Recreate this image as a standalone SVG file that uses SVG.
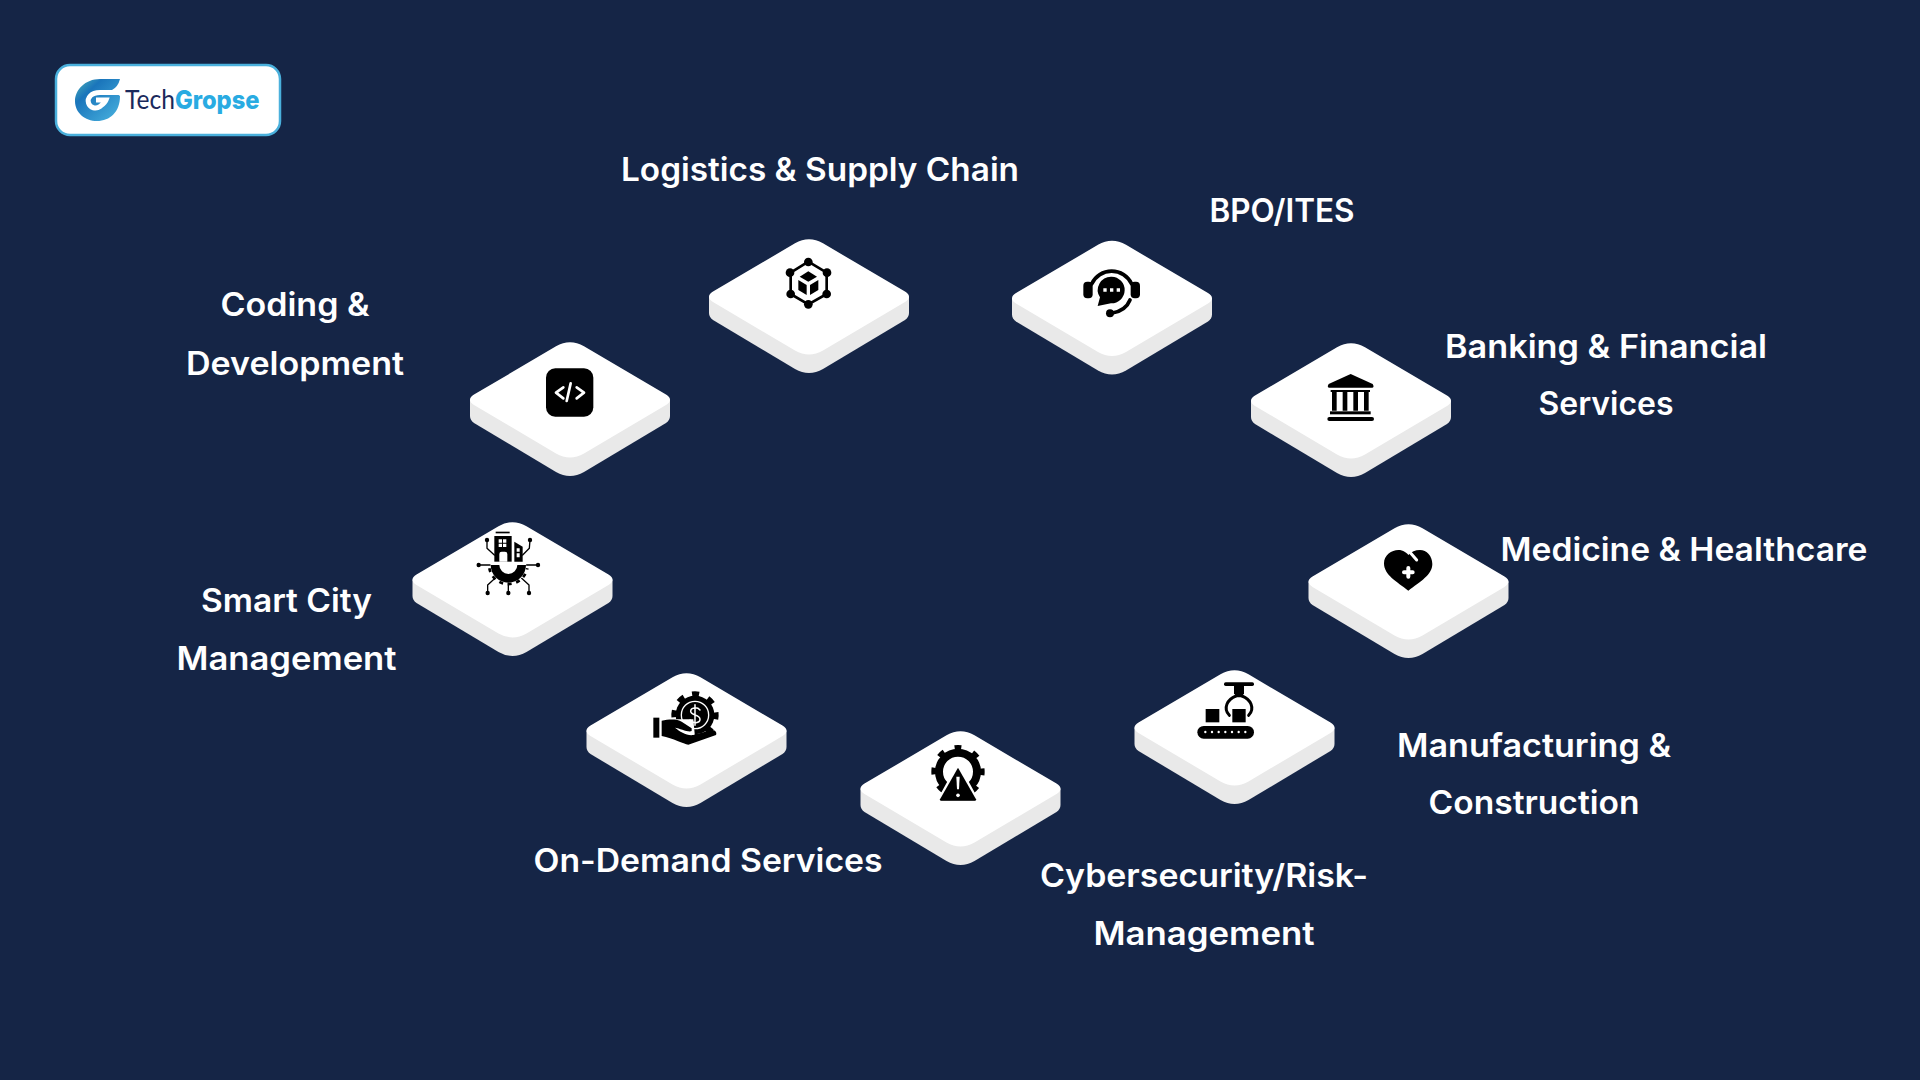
<svg xmlns="http://www.w3.org/2000/svg" width="1920" height="1080" viewBox="0 0 1920 1080">
<style>
.lbl{font-family:"Inter","Liberation Sans",sans-serif;font-weight:600;font-size:32px;fill:#fff;text-anchor:middle}
.w{fill:#fff}.wl{fill:none;stroke:#fff;stroke-linecap:round;stroke-linejoin:round}
.k{fill:#000}.kl{fill:none;stroke:#000;stroke-linecap:round;stroke-linejoin:round}
</style>
<defs>
<linearGradient id="gm" x1="0" y1="0" x2="1" y2="1"><stop offset="0" stop-color="#4fb4b8"/><stop offset=".3" stop-color="#1a75bb"/><stop offset="1" stop-color="#4ab4e0"/></linearGradient>
<g id="plate">
<path fill="#e9e9e9" d="M-100 57.500V74Q-100 78 -96 81L-14 130Q0 138 14 130L96 81Q100 78 100 74V57.500Z"/>
<path fill="#fff" d="M-14 4.300Q0 -4 14 4.300L96 52.600Q104 57.500 96 63L14 111.500Q0 119.500 -14 111.500L-96 63Q-104 57.500 -96 52.600Z"/>
</g>
</defs>
<rect width="1920" height="1080" fill="#152546"/>

<g id="logo">
<rect x="56" y="65" width="224" height="70" rx="14" fill="#fff" stroke="#4ab0dc" stroke-width="2.500"/>
<path fill="url(#gm)" d="M120 79H100C85 79 75 90 75 101C75 113 85 121 97 121C110 121 120 112 120 96L112 90Q118 87 120 79Z"/>
<path fill="none" stroke="#fff" stroke-width="5" d="M122 92.500H100C91 92.500 87 98 88.500 103C90 108 96 109.500 100 106.500C103 104 105 102.500 106 100H96"/>
<text transform="translate(125 109) scale(.91 1)" font-size="27" fill="#1b2a5c" font-family="Lato,'Liberation Sans',sans-serif" font-weight="400">Tech<tspan font-family="Inter,'Liberation Sans',sans-serif" font-weight="800" font-size="26" fill="#29abe2">Gropse</tspan></text>
</g>

<g id="node-coding">
<use href="#plate" x="570" y="342"/>
<g transform="translate(450 330) scale(.33333)">
<rect x="288" y="115" width="142" height="145" rx="28" class="k"/>
<path class="wl" stroke-width="8" d="M340 172L318 188L340 205M362 160L350 213M380 172L402 188L380 205"/>
</g>
<text class="lbl" x="295" y="316" textLength="149" lengthAdjust="spacingAndGlyphs">Coding &amp;</text>
<text class="lbl" x="295" y="374.500" textLength="218" lengthAdjust="spacingAndGlyphs">Development</text>
</g>

<g id="node-logistics">
<use href="#plate" x="809" y="239"/>
<g transform="translate(770 250) scale(.33333)">
<path class="kl" stroke-width="8" d="M115 35L170 68V132L115 163L62 132V68Z"/>
<circle cx="115" cy="36" r="13" class="k"/><circle cx="115" cy="163" r="13" class="k"/>
<circle cx="60" cy="68" r="13" class="k"/><circle cx="171" cy="68" r="13" class="k"/>
<circle cx="62" cy="132" r="13" class="k"/><circle cx="170" cy="132" r="13" class="k"/>
<path class="k" d="M115 64L141 80L115 95L89 80Z"/>
<path class="k" d="M85 90L110 105V135L85 120ZM145 90L120 105V135L145 120Z"/>
</g>
<text class="lbl" x="820" y="181" textLength="398" lengthAdjust="spacingAndGlyphs">Logistics &amp; Supply Chain</text>
</g>

<g id="node-bpo">
<use href="#plate" x="1112" y="240.500"/>
<g transform="translate(1075 260) scale(.33333)">
<rect x="25" y="65" width="28" height="50" rx="12" class="k"/>
<rect x="167" y="65" width="28" height="50" rx="12" class="k"/>
<path class="kl" stroke-width="11" d="M50 72A66 66 0 0 1 170 72M165 120C155 145 135 155 112 159"/>
<circle cx="105" cy="160" r="12" class="k"/>
<path class="k" d="M110 50A40 40 0 1 1 108 130L68 138L75 112A40 40 0 0 1 110 50Z"/>
<path class="w" d="M85 85h10v10h-10zM105 85h10v10h-10zM125 85h10v10h-10z"/>
</g>
<text class="lbl" x="1282" y="222" textLength="145" lengthAdjust="spacingAndGlyphs">BPO/ITES</text>
</g>

<g id="node-banking">
<use href="#plate" x="1351" y="343"/>
<g transform="translate(1240 340) scale(.33333)">
<path class="k" d="M332 102L398 132Q404 143 396 143H268Q260 143 266 132Z"/>
<rect x="272" y="150" width="118" height="6" class="k"/>
<path class="k" d="M276 156h14v56h-14zM308 156h14v56h-14zM340 156h14v56h-14zM372 156h14v56h-14z"/>
<rect x="270" y="214" width="122" height="9" class="k"/>
<rect x="262" y="231" width="140" height="12" rx="6" class="k"/>
</g>
<text class="lbl" x="1606" y="357.500" textLength="322" lengthAdjust="spacingAndGlyphs">Banking &amp; Financial</text>
<text class="lbl" x="1606" y="415" textLength="135" lengthAdjust="spacingAndGlyphs">Services</text>
</g>

<g id="node-medicine">
<use href="#plate" x="1408.500" y="524"/>
<g transform="translate(1300 510) scale(.33333)">
<path class="k" d="M325 242C290 215 252 195 252 160C252 135 275 120 295 120C310 120 320 128 325 135C335 125 345 120 360 120C380 120 397 138 397 162C397 195 360 215 325 242Z"/>
<path class="wl" stroke-width="9" d="M322 118L350 150"/>
<path class="wl" stroke-width="12" d="M325 174V200M312 187H338"/>
</g>
<text class="lbl" x="1684" y="561" textLength="367" lengthAdjust="spacingAndGlyphs">Medicine &amp; Healthcare</text>
</g>

<g id="node-manufacturing">
<use href="#plate" x="1234.500" y="670"/>
<g transform="translate(1120 660) scale(.33333)">
<rect x="312" y="67" width="90" height="11" rx="5" class="k"/>
<path class="k" d="M342 78H372V100L365 112H350L342 100Z"/>
<path class="kl" stroke-width="9" d="M328 166C308 145 322 118 348 108M386 166C406 145 392 118 366 108"/>
<rect x="257" y="147" width="41" height="40" class="k"/>
<rect x="337" y="147" width="40" height="40" class="k"/>
<rect x="232" y="198" width="170" height="38" rx="19" class="k"/>
<g class="w"><circle cx="256" cy="216" r="3.500"/><circle cx="276" cy="216" r="3.500"/><circle cx="296" cy="216" r="3.500"/><circle cx="316" cy="216" r="3.500"/><circle cx="336" cy="216" r="3.500"/><circle cx="356" cy="216" r="3.500"/><circle cx="376" cy="216" r="3.500"/></g>
</g>
<text class="lbl" x="1534" y="757" textLength="274" lengthAdjust="spacingAndGlyphs">Manufacturing &amp;</text>
<text class="lbl" x="1534" y="814" textLength="211" lengthAdjust="spacingAndGlyphs">Construction</text>
</g>

<g id="node-cybersecurity">
<use href="#plate" x="960.500" y="731"/>
<g transform="translate(850 720) scale(.33333)">
<circle cx="324" cy="155" r="57" fill="none" stroke="#000" stroke-width="24"/>
<circle cx="324" cy="155" r="72" fill="none" stroke="#000" stroke-width="16" stroke-dasharray="20 36.500" transform="rotate(-98 324 155)"/>
<path class="k" stroke="#fff" stroke-width="10" stroke-linejoin="round" d="M324 137L384 246H264Z"/>
<path class="k" d="M324 143L378 238Q380 242 375 242H273Q268 242 270 238Z"/>
<path class="w" d="M319 170H329L327 208H321Z"/><circle cx="324" cy="226" r="5.500" class="w"/>
</g>
<text class="lbl" x="1204" y="886.500" textLength="328" lengthAdjust="spacingAndGlyphs">Cybersecurity/Risk-</text>
<text class="lbl" x="1204" y="945" textLength="221" lengthAdjust="spacingAndGlyphs">Management</text>
</g>

<g id="node-ondemand">
<use href="#plate" x="686.500" y="673"/>
<g transform="translate(580 660) scale(.33333)">
<circle cx="345" cy="165" r="58" class="k"/>
<circle cx="345" cy="165" r="63" fill="none" stroke="#000" stroke-width="16" stroke-dasharray="21 28.500" transform="rotate(-98 345 165)"/>
<circle cx="345" cy="165" r="41" fill="none" stroke="#fff" stroke-width="4"/>
<path class="wl" stroke-width="4.500" d="M360 150C352 140 332 142 332 154C332 168 360 162 360 178C360 190 338 192 330 180M345 134V196"/>
<path fill="#fff" d="M270 178H340L345 232H275Z"/>
<rect x="220" y="173" width="18" height="60" class="k"/>
<path class="k" d="M245 182C265 178 290 175 305 185L335 205V213C325 218 300 205 285 203C300 215 320 228 340 225L395 210C405 208 412 218 408 225L325 254C310 252 280 235 245 228Z"/>
</g>
<text class="lbl" x="708" y="872" textLength="349" lengthAdjust="spacingAndGlyphs">On-Demand Services</text>
</g>

<g id="node-smartcity">
<use href="#plate" x="512.500" y="522"/>
<g transform="translate(400 510) scale(.33333)">
<rect x="287" y="65" width="42" height="5" class="k"/>
<rect x="283" y="78" width="52" height="77" class="k"/>
<path class="w" d="M296 88h10v10h-10zM309 88h10v10h-10zM296 101h10v10h-10zM309 101h10v10h-10zM298 155V132Q298 125 305 125H315Q322 125 322 132V155Z"/>
<path class="k" d="M343 95L368 110V155H343Z"/>
<path class="w" d="M350 115h9v10h-9zM350 130h9v12h-9z"/>
<path class="kl" stroke-width="4" d="M261 90V115L283 135M390 90L388 115L368 135M236 165H270M414 165H380M263 249V225L285 205M325 249V220M387 249V225L365 205"/>
<circle cx="261" cy="90" r="6.500" class="k"/><circle cx="390" cy="90" r="6.500" class="k"/>
<circle cx="236" cy="165" r="6.500" class="k"/><circle cx="414" cy="165" r="6.500" class="k"/>
<circle cx="263" cy="249" r="6.500" class="k"/><circle cx="325" cy="249" r="6.500" class="k"/><circle cx="387" cy="249" r="6.500" class="k"/>
<path class="k" d="M272 165A53 53 0 0 0 378 165H352A27 27 0 0 1 298 165Z"/>
<path fill="none" stroke="#000" stroke-width="8" stroke-dasharray="12 14" d="M268 175A58 58 0 0 0 382 175"/>
</g>
<text class="lbl" x="286.500" y="612" textLength="171" lengthAdjust="spacingAndGlyphs">Smart City</text>
<text class="lbl" x="286.500" y="670" textLength="220" lengthAdjust="spacingAndGlyphs">Management</text>
</g>
</svg>
